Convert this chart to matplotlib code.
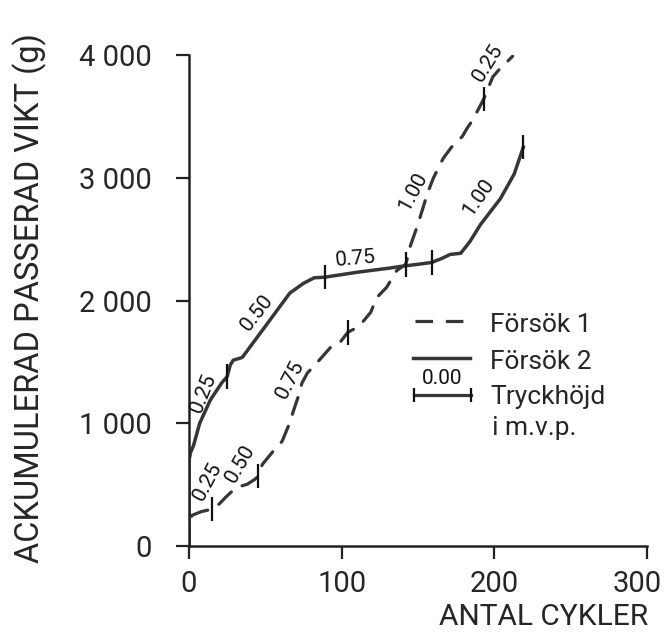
import numpy as np
import matplotlib
matplotlib.use("Agg")
from matplotlib import pyplot as plt
from matplotlib.transforms import ScaledTranslation

plt.rcParams["font.family"] = ["Roboto", "DejaVu Sans"]

# Försök 1 (dashed): cycles vs accumulated passed weight (g)
cyc1 = [0, 0, 2, 8, 15, 20, 24, 31, 38, 43, 45.5, 48, 56, 61, 66, 68, 71.5, 74,
        77.5, 82.5, 87, 94, 99, 104, 109, 113, 119, 123, 129.5, 136, 142, 145,
        150, 156, 160, 166.5, 172, 179, 182, 186, 193, 199, 203, 212]
wt1 = [0, 200, 250, 280, 300, 345, 397, 478, 502, 542, 570, 664, 785, 853, 1004,
       1085, 1215, 1328, 1409, 1474, 1538, 1636, 1660, 1741, 1773, 1814, 1903,
       2024, 2108, 2243, 2295, 2445, 2623, 2866, 2996, 3158, 3250, 3336, 3400,
       3474, 3640, 3822, 3879, 3990]

# Försök 2 (solid)
cyc2 = [0, 0, 1, 3, 7, 14, 21.5, 25, 27, 29, 33.4, 35, 50, 66, 75, 82, 89, 110,
        132, 140, 150, 159, 166, 171, 178, 184, 191, 204, 213, 219]
wt2 = [0, 700, 760, 820, 1000, 1190, 1330, 1380, 1474, 1514, 1530, 1538, 1790,
       2060, 2140, 2185, 2190, 2230, 2265, 2280, 2295, 2310, 2345, 2375, 2385,
       2480, 2620, 2830, 3030, 3250]

# cycles where the pressure head was changed
marks1 = [15, 45.5, 104, 142, 193]
marks2 = [25, 89, 159, 219]

# pressure head (m.v.p.) written along each curve
heads1 = ["0.25", "0.50", "0.75", "1.00", "0.25"]
heads1_at = [12, 33, 66, 147, 196]
heads2 = ["0.25", "0.50", "0.75", "1.00"]
heads2_at = [10.5, 44.6, 112, 189.5]

xticks = [0, 100, 200, 300]
yticks = [0, 1000, 2000, 3000, 4000]
ytick_labels = ["0", "1 000", "2 000", "3 000", "4 000"]

ink = "#363636"
txt = "#262626"

fig = plt.figure(figsize=(6.65, 6.4), dpi=100)
ax = fig.add_axes([189 / 665, 94 / 640, 458 / 665, 491 / 640])

ax.plot(cyc1, wt1, color=ink, lw=2.3, linestyle=(0, (5.5, 4)),
        solid_capstyle="round", dash_capstyle="round")
ax.plot(cyc2, wt2, color=ink, lw=2.5, solid_joinstyle="round")

# short cross marks at head changes
for cyc, wt, marks in ((cyc1, wt1, marks1), (cyc2, wt2, marks2)):
    y = np.interp(marks, cyc, wt)
    ax.vlines(marks, y - 100, y + 100, color="#111111", lw=1.6)

# head labels, offset (px) and rotation per label
off1 = [(0, 29), (1, 23), (0, 43), (0, 46), (0, 25)]
rot1 = [62, 60, 63, 62, 58]
off2 = [(-2, 19), (0, 25), (-4, 13), (0, 31)]
rot2 = [68, 52, 5, 55]
for cyc, wt, heads, at, off, rot in ((cyc1, wt1, heads1, heads1_at, off1, rot1),
                                     (cyc2, wt2, heads2, heads2_at, off2, rot2)):
    for h, x, (dx, dy), r in zip(heads, at, off, rot):
        ax.annotate(h, (x, np.interp(x, cyc, wt)), xytext=(dx * 0.72, dy * 0.72),
                    textcoords="offset points", ha="center", va="center",
                    rotation=r, rotation_mode="anchor", fontsize=15, color="#111111")

ax.set_xlim(0, 300)
ax.set_ylim(0, 4000)
ax.set_xticks(xticks)
ax.set_xticklabels([str(t) for t in xticks])
ax.set_yticks(yticks)
ax.set_yticklabels(ytick_labels)
for side in ("top", "right"):
    ax.spines[side].set_visible(False)
for side in ("left", "bottom"):
    ax.spines[side].set_linewidth(1.8)
    ax.spines[side].set_color("#222222")
ax.tick_params(axis="both", direction="out", length=9.5, width=1.6, color="#222222",
               labelsize=21, labelcolor=txt)
ax.tick_params(axis="x", pad=8)
ax.tick_params(axis="y", pad=17)

# last x label sits a little left of its tick, inside the figure
last = ax.get_xticklabels()[-1]
last.set_transform(last.get_transform()
                   + ScaledTranslation(-0.1, 0, fig.dpi_scale_trans))

# legend drawn in axes coordinates
lg = dict(transform=ax.transAxes, clip_on=False)
ax.plot([0.493, 0.609], [0.458, 0.458], color=ink, lw=2.3,
        linestyle=(0, (5.5, 4)), **lg)
ax.plot([0.489, 0.614], [0.383, 0.383], color=ink, lw=2.5, **lg)
ax.plot([0.491, 0.615], [0.3075, 0.3075], color=ink, lw=2.3, **lg)
ax.vlines([0.491, 0.615], 0.294, 0.321, color="#111111", lw=1.6, **lg)
tk = dict(transform=ax.transAxes, ha="left", va="center", fontsize=19, color=txt)
ax.text(0.657, 0.450, "Försök 1", **tk)
ax.text(0.657, 0.375, "Försök 2", **tk)
ax.text(0.657, 0.303, "Tryckhöjd", **tk)
ax.text(0.662, 0.240, "i m.v.p.", **tk)
ax.text(0.552, 0.342, "0.00", transform=ax.transAxes, ha="center", va="center",
        fontsize=15, color="#111111")

fig.text(30 / 665, 1 - 298 / 640, "ACKUMULERAD PASSERAD VIKT (g)", rotation=90,
         ha="center", va="center", fontsize=23.5, color=txt)
fig.text(648 / 665, 1 - 617 / 640, "ANTAL CYKLER", ha="right", va="center",
         fontsize=21.5, color=txt)

fig.savefig("out.png", dpi=100, facecolor="white")
